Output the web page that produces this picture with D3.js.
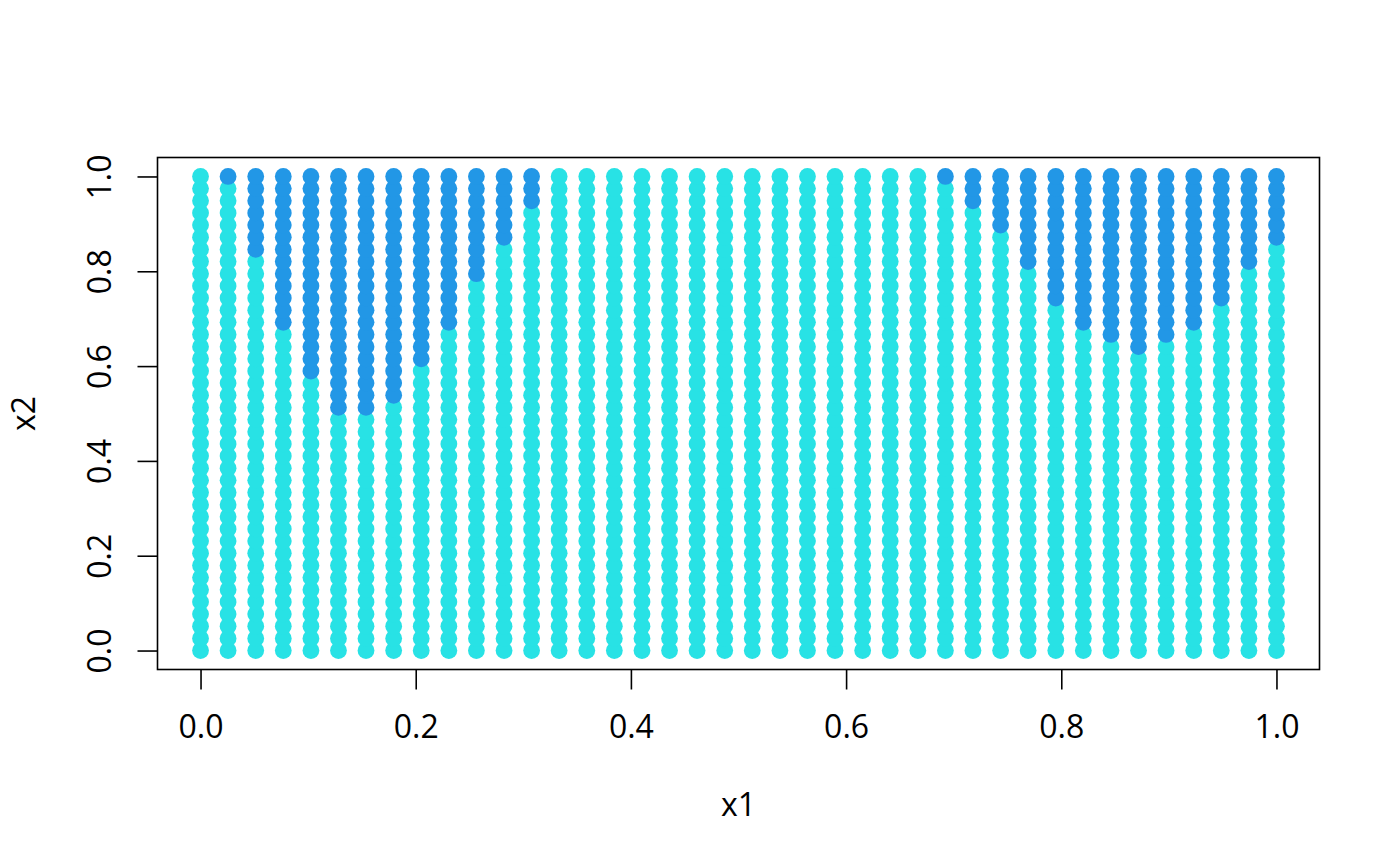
<!DOCTYPE html>
<html>
<head>
<meta charset="utf-8">
<style>
  html, body { margin: 0; padding: 0; background: #fff; }
  svg { display: block; }
  text { font-family: "Open Sans", sans-serif; fill: #000; }
</style>
<script src="https://cdn.jsdelivr.net/npm/d3@7"></script>
</head>
<body>
<svg id="plot" width="1400" height="866"></svg>
<script>
// grid levels of the two inputs
const x1Levels = [0, 0.0256, 0.0513, 0.0769, 0.1026, 0.1282, 0.1538, 0.1795, 0.2051, 0.2308,
  0.2564, 0.2821, 0.3077, 0.3333, 0.359, 0.3846, 0.4103, 0.4359, 0.4615, 0.4872,
  0.5128, 0.5385, 0.5641, 0.5897, 0.6154, 0.641, 0.6667, 0.6923, 0.7179, 0.7436,
  0.7692, 0.7949, 0.8205, 0.8462, 0.8718, 0.8974, 0.9231, 0.9487, 0.9744, 1];
const x2Levels = [0, 0.0256, 0.0513, 0.0769, 0.1026, 0.1282, 0.1538, 0.1795, 0.2051, 0.2308,
  0.2564, 0.2821, 0.3077, 0.3333, 0.359, 0.3846, 0.4103, 0.4359, 0.4615, 0.4872,
  0.5128, 0.5385, 0.5641, 0.5897, 0.6154, 0.641, 0.6667, 0.6923, 0.7179, 0.7436,
  0.7692, 0.7949, 0.8205, 0.8462, 0.8718, 0.8974, 0.9231, 0.9487, 0.9744, 1];
// how many points of each x1 column are class 2, counted from the top
const class2Count = [0, 1, 7, 13, 17, 20, 20, 19, 16, 13,
  9, 6, 3, 0, 0, 0, 0, 0, 0, 0,
  0, 0, 0, 0, 0, 0, 0, 1, 3, 5,
  8, 11, 13, 14, 15, 14, 13, 11, 8, 6];
const xTicks = [0, 0.2, 0.4, 0.6, 0.8, 1];
const yTicks = [0, 0.2, 0.4, 0.6, 0.8, 1];
const classColors = ["#28E2E5", "#2297E6"];

const plotLeft = 157.5, plotRight = 1319.5, plotTop = 157.5, plotBottom = 669.5;
const labelSize = 32;

const xScale = d3.scaleLinear().domain([-0.04, 1.04]).range([plotLeft, plotRight]);
const yScale = d3.scaleLinear().domain([-0.04, 1.04]).range([plotBottom, plotTop]);

const points = [];
x2Levels.forEach((x2, row) => {
  x1Levels.forEach((x1, col) => {
    const isClass2 = row >= x2Levels.length - class2Count[col];
    points.push({ x1: x1, x2: x2, cls: isClass2 ? 1 : 0 });
  });
});

const svg = d3.select("#plot");

svg.append("g")
  .selectAll("circle")
  .data(points)
  .join("circle")
  .attr("cx", d => xScale(d.x1))
  .attr("cy", d => yScale(d.x2))
  .attr("r", 8.4)
  .attr("fill", d => classColors[d.cls]);

svg.append("rect")
  .attr("x", plotLeft)
  .attr("y", plotTop)
  .attr("width", plotRight - plotLeft)
  .attr("height", plotBottom - plotTop)
  .attr("fill", "none")
  .attr("stroke", "#000")
  .attr("stroke-width", 1.6);

const xAxis = svg.append("g")
  .attr("transform", "translate(0," + plotBottom + ")")
  .call(d3.axisBottom(xScale).tickValues(xTicks).tickFormat(d3.format(".1f")).tickSize(20).tickPadding(26));
const yAxis = svg.append("g")
  .attr("transform", "translate(" + plotLeft + ",0)")
  .call(d3.axisLeft(yScale).tickValues(yTicks).tickFormat(d3.format(".1f")).tickSize(20).tickPadding(0));

[xAxis, yAxis].forEach(axis => {
  axis.select(".domain").remove();
  axis.selectAll(".tick line").attr("stroke", "#000").attr("stroke-width", 1.6);
  axis.selectAll("text").attr("font-size", labelSize).style("font-family", '"Open Sans", sans-serif').attr("fill", "#000");
});
xAxis.selectAll(".tick text").attr("dy", null).attr("y", 68.5);
yAxis.selectAll(".tick text")
  .attr("x", null)
  .attr("dy", null)
  .attr("text-anchor", "middle")
  .attr("transform", "translate(-47,0) rotate(-90)");

svg.append("text")
  .attr("x", (plotLeft + plotRight) / 2)
  .attr("y", 816)
  .attr("text-anchor", "middle")
  .attr("font-size", labelSize)
  .text("x1");
svg.append("text")
  .attr("transform", "translate(35," + (plotTop + plotBottom) / 2 + ") rotate(-90)")
  .attr("text-anchor", "middle")
  .attr("font-size", labelSize)
  .text("x2");
</script>
</body>
</html>
